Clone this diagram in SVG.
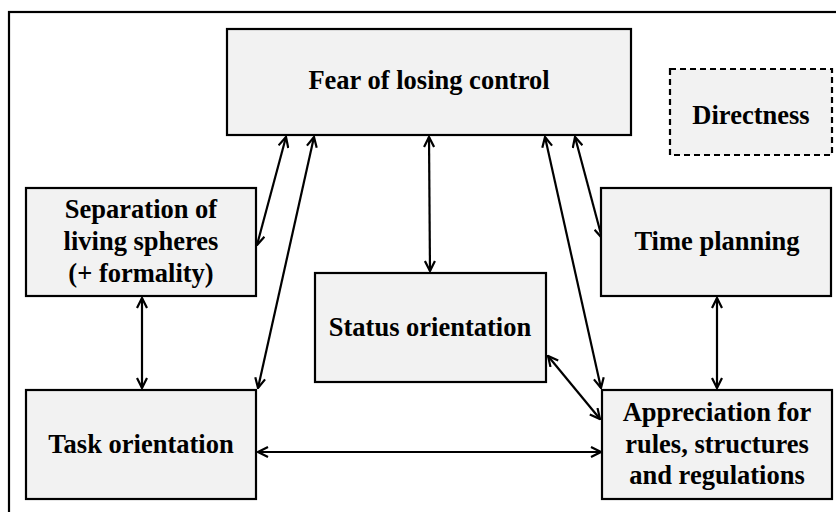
<svg xmlns="http://www.w3.org/2000/svg" width="836" height="512" viewBox="0 0 836 512">
<style>
.box{fill:#f2f2f2;stroke:#000;stroke-width:2.2}
.dash{fill:#f2f2f2;stroke:#000;stroke-width:2.2;stroke-dasharray:6 4}
.t{font-family:"Liberation Serif","Times New Roman",serif;font-weight:bold;font-size:26.5px;fill:#000;text-anchor:middle}
.c{stroke:#000;stroke-width:2.2;fill:none;marker-start:url(#ah);marker-end:url(#ah)}
</style>
<defs>
<marker id="ah" viewBox="0 0 12 12" refX="11" refY="6" markerWidth="12" markerHeight="12" markerUnits="userSpaceOnUse" orient="auto-start-reverse">
<path d="M1,1 L11,6 L1,11" fill="none" stroke="#000" stroke-width="2.2"/>
</marker>
</defs>
<rect x="9" y="12" width="840" height="520" fill="#fff" stroke="#000" stroke-width="2.2"/>
<g id="connectors">
<line class="c" x1="286" y1="137" x2="257" y2="245"/>
<line class="c" x1="314" y1="137" x2="258" y2="388"/>
<line class="c" x1="429" y1="137" x2="430" y2="271"/>
<line class="c" x1="545" y1="137" x2="601" y2="388"/>
<line class="c" x1="575" y1="137" x2="602" y2="238"/>
<line class="c" x1="142" y1="298" x2="142" y2="388"/>
<line class="c" x1="258" y1="452" x2="601" y2="452"/>
<line class="c" x1="548" y1="356" x2="600" y2="419"/>
<line class="c" x1="717" y1="298" x2="717" y2="388"/>
</g>
<g id="fear"><rect class="box" x="227" y="29" width="404" height="106"/><text class="t" x="429" y="89">Fear of losing control</text></g>
<g id="directness"><rect class="dash" x="670" y="69" width="162" height="86"/><text class="t" x="751" y="124">Directness</text></g>
<g id="separation"><rect class="box" x="26" y="188" width="230" height="108"/><text class="t" x="141" y="218">Separation of</text><text class="t" x="141" y="250">living spheres</text><text class="t" x="141" y="282">(+ formality)</text></g>
<g id="time"><rect class="box" x="601" y="188" width="230" height="108"/><text class="t" x="717" y="250">Time planning</text></g>
<g id="status"><rect class="box" x="315" y="273" width="231" height="109"/><text class="t" x="430" y="336">Status orientation</text></g>
<g id="task"><rect class="box" x="26" y="390" width="230" height="109"/><text class="t" x="141" y="453">Task orientation</text></g>
<g id="appreciation"><rect class="box" x="602" y="390" width="230" height="109"/><text class="t" x="717" y="421">Appreciation for</text><text class="t" x="717" y="453">rules, structures</text><text class="t" x="717" y="484">and regulations</text></g>
</svg>
